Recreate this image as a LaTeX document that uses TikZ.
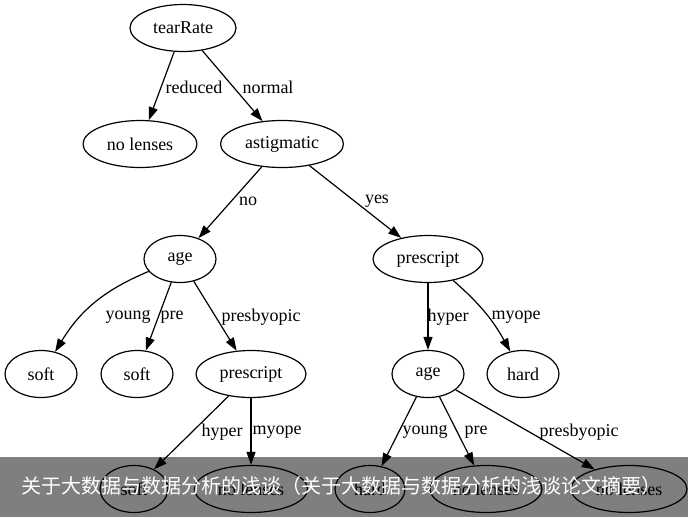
\documentclass[tikz,border=0pt]{standalone}
\usepackage{fontspec}
\setmainfont{Liberation Serif}
\newfontfamily\cjk{Noto Sans CJK SC}
\usetikzlibrary{arrows.meta,shapes.geometric}
\tikzset{
  tn/.style={ellipse,draw,line width=1.2pt,inner sep=0pt,minimum height=47pt,font=\fontsize{18}{20}\selectfont},
  edge/.style={line width=1.2pt,-{Triangle[length=13pt,width=9pt]}},
  lbl/.style={inner sep=0pt,font=\fontsize{18}{20}\selectfont},
}
\begin{document}
\begin{tikzpicture}[x=1pt,y=-1pt]
\useasboundingbox (0,0) rectangle (688,517);
\fill[white] (0,0) rectangle (688,517);
% nodes
\node[tn,minimum width=106pt] (tr) at (183,28) {tearRate};
\node[tn,minimum width=114pt] (nl1) at (140,144) {no lenses};
\node[tn,minimum width=123pt] (ast) at (282,144) {astigmatic};
\node[tn,minimum width=72pt] (age1) at (180,259) {age};
\node[tn,minimum width=110pt] (pr1) at (428,259) {prescript};
\node[tn,minimum width=72pt] (s1) at (41,374) {soft};
\node[tn,minimum width=72pt] (s2) at (137,374) {soft};
\node[tn,minimum width=110pt] (pr2) at (251,374) {prescript};
\node[tn,minimum width=72pt] (age2) at (428,374) {age};
\node[tn,minimum width=72pt] (h1) at (523,374) {hard};
\node[tn,minimum width=68pt] (s3) at (134,489) {soft};
\node[tn,minimum width=113pt] (nl2) at (251,489) {no lenses};
\node[tn,minimum width=70pt] (h2) at (370,489) {hard};
\node[tn,minimum width=112pt] (nl3) at (486,489) {no lenses};
\node[tn,minimum width=116pt] (nl4) at (629,489) {no lenses};
% edges
\draw[edge] (tr) -- (nl1) node[lbl] (l1) at (194,87) {reduced};
\draw[edge] (tr) -- (ast) node[lbl] (l2) at (268,87) {normal};
\draw[edge] (ast) -- (age1) node[lbl] (l3) at (248,201) {no};
\draw[edge] (ast) -- (pr1) node[lbl] (l4) at (377,201) {yes};
\draw[edge] (age1) to[bend right=18] (s1);
\node[lbl] (l5) at (128,317) {young};
\draw[edge] (age1) -- (s2) node[lbl] (l6) at (172,317) {pre};
\draw[edge] (age1) -- (pr2) node[lbl] (l7) at (261,317) {presbyopic};
\draw[edge] (pr1) -- (age2) node[lbl] (l8) at (448,317) {hyper};
\draw[edge] (pr1) to[bend left=10] (h1);
\node[lbl] (l9) at (516,317) {myope};
\draw[edge] (pr2) -- (s3) node[lbl] (l10) at (222,432) {hyper};
\draw[edge] (pr2) -- (nl2) node[lbl] (l11) at (277,432) {myope};
\draw[edge] (age2) -- (h2) node[lbl] (l12) at (425,432) {young};
\draw[edge] (age2) -- (nl3) node[lbl] (l13) at (476,432) {pre};
\draw[edge] (age2) -- (nl4) node[lbl] (l14) at (579,432) {presbyopic};
% banner
\fill[black,opacity=0.5] (0,457) rectangle (688,517);
\node[anchor=west,inner sep=0pt,text=white,font=\cjk\fontsize{20}{22}\selectfont] (ban) at (21,486) {关于大数据与数据分析的浅谈（关于大数据与数据分析的浅谈论文摘要）};
\end{tikzpicture}
\end{document}
